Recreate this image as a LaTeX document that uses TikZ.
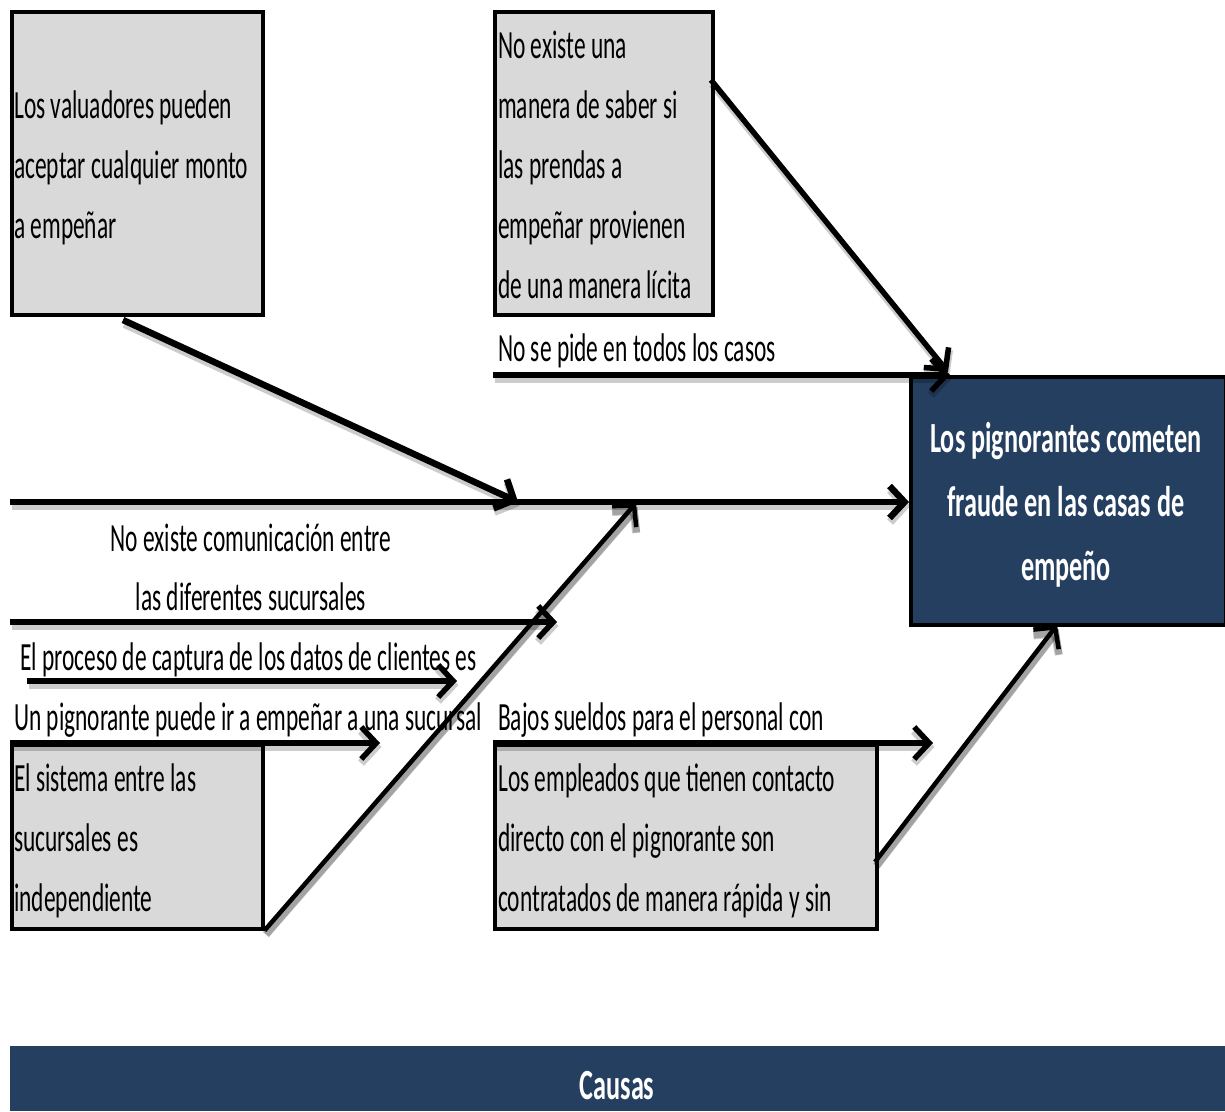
\documentclass[tikz,border=0pt]{standalone}
\usepackage{fontspec}
\setmainfont{Carlito}[FakeStretch=0.585]
\newfontfamily\headfont{Carlito}[FakeStretch=0.61]
\usetikzlibrary{arrows.meta}
\definecolor{navy}{HTML}{243F60}
\definecolor{boxgray}{HTML}{D9D9D9}
\begin{document}
\begin{tikzpicture}[x=1pt,y=-1pt,
  causebox/.style={draw=black, line width=3.5pt, fill=boxgray, inner sep=0pt,
    anchor=north west},
  navybox/.style={draw=black, line width=3.5pt, fill=navy, inner sep=0pt,
    anchor=north west},
  lbl/.style={anchor=base west, inner sep=0pt, font=\fontsize{40}{48}\selectfont},
  clbl/.style={anchor=base, inner sep=0pt, font=\fontsize{40}{48}\selectfont},
  hlbl/.style={anchor=base, inner sep=0pt, text=white,
    font=\headfont\bfseries\fontsize{43}{50}\selectfont},
  lineshadow/.style={preaction={draw=black, draw opacity=0.2, line width=#1,
    transform canvas={shift={(1.5pt,-4pt)}}}},
  bone/.style={draw=black, line width=5.5pt, lineshadow=8pt,
    -{Straight Barb[length=15pt,width=32pt]}},
  spine/.style={bone, line width=6.5pt},
  twig/.style={bone, line width=4.5pt, lineshadow=7pt}
]
\useasboundingbox (0,0) rectangle (1225,1111);

% cause boxes
\node[causebox, minimum width=251pt, minimum height=303pt] (boxA) at (10,10) {};
\node[causebox, minimum width=218pt, minimum height=303pt] (boxB) at (493,10) {};
\node[causebox, minimum width=251pt, minimum height=184pt] (boxC) at (10,743) {};
\node[causebox, minimum width=382pt, minimum height=184pt] (boxD) at (493,743) {};

% effect box and bottom banner
\node[navybox, minimum width=315pt, minimum height=248pt] (effect) at (909,375) {};
\node[fill=navy, inner sep=0pt, anchor=north west,
      minimum width=1215pt, minimum height=65pt] (banner) at (10,1046) {};

% attachment points of the bones
\coordinate (spineS) at (10,502);
\coordinate (aS) at (123,320);
\coordinate (aE) at (518,502);
\coordinate (bS) at (711,80);
\coordinate (bE) at (948,372);
\coordinate (nsS) at (493,375);
\coordinate (nsE) at (950,375);
\coordinate (cE) at (636,503);
\coordinate (comS) at (10,622);
\coordinate (comE) at (557,622);
\coordinate (capS) at (27,681);
\coordinate (capE) at (457,681);
\coordinate (unS) at (10,743);
\coordinate (unE) at (380,743);
\coordinate (bjS) at (493,743);
\coordinate (bjE) at (933,743);
\coordinate (dS) at (875,862);
\coordinate (dE) at (1057,625);

% bones
\draw[spine] (spineS) -- (spineS -| effect.west);
\draw[spine] (aS) -- (aE);
\draw[bone] (bS) -- (bE);
\draw[bone] (nsS) -- (nsE);
\draw[twig] (boxC.south east) -- (cE);
\draw[bone] (comS) -- (comE);
\draw[bone] (capS) -- (capE);
\draw[bone] (unS) -- (unE);
\draw[bone] (bjS) -- (bjE);
\draw[twig] (dS) -- (dE);

% texts of box A
\node[lbl] (a1) at (14,118) {Los valuadores pueden};
\node[lbl] (a2) at (14,178) {aceptar cualquier monto};
\node[lbl] (a3) at (14,238) {a empeñar};

% texts of box B
\node[lbl] (b1) at (498,58) {No existe una};
\node[lbl] (b2) at (498,118) {manera de saber si};
\node[lbl] (b3) at (498,178) {las prendas a};
\node[lbl] (b4) at (498,238) {empeñar provienen};
\node[lbl] (b5) at (498,298) {de una manera lícita};
\node[lbl] (ns) at (498,361) {No se pide en todos los casos};

% texts along the lower bones
\node[clbl] (com1) at (251,551) {No existe comunicación entre};
\node[clbl] (com2) at (251,610) {las diferentes sucursales};
\node[lbl] (cap) at (20,670) {El proceso de captura de los datos de clientes es};
\node[lbl] (un) at (14,730) {Un pignorante puede ir a empeñar a una sucursal};
\node[lbl] (bj) at (498,730) {Bajos sueldos para el personal con};

% texts of box C
\node[lbl] (c1) at (14,791) {El sistema entre las};
\node[lbl] (c2) at (14,851) {sucursales es};
\node[lbl] (c3) at (14,911) {independiente};

% texts of box D
\node[lbl] (d1) at (498,791) {Los empleados que tienen contacto};
\node[lbl] (d2) at (498,851) {directo con el pignorante son};
\node[lbl] (d3) at (498,911) {contratados de manera rápida y sin};

% effect text
\node[hlbl] (e1) at (1066,452) {Los pignorantes cometen};
\node[hlbl] (e2) at (1066,516) {fraude en las casas de};
\node[hlbl] (e3) at (1066,580) {empeño};

% banner text
\node[hlbl] (causas) at (617,1099) {Causas};
\end{tikzpicture}
\end{document}
